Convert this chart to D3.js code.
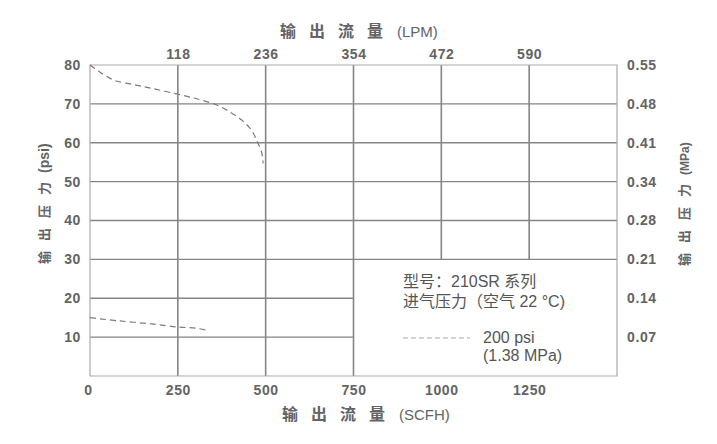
<!DOCTYPE html>
<html><head><meta charset="utf-8">
<script src="https://cdn.jsdelivr.net/npm/d3@7"></script>
<style>
body{margin:0;background:#fff;}
svg{display:block;}
text{font-family:"Liberation Sans",Arial,"Noto Sans CJK SC",sans-serif;}
</style></head>
<body><svg id="c" width="717" height="444"></svg>
<script>
// ---- data ----
const scfhTicks = [250, 500, 750, 1000, 1250];
const scfhLabels = ["0", "250", "500", "750", "1000", "1250"];
const lpmLabels = ["118", "236", "354", "472", "590"];
const psiTicks = [10, 20, 30, 40, 50, 60, 70, 80];
const mpaLabels = ["0.07", "0.14", "0.21", "0.28", "0.34", "0.41", "0.48", "0.55"];
// upper branch of the 200 psi curve (SCFH, psi)
const curveHighX = [0, 33, 71, 128, 175, 249, 308, 355, 393, 431, 459, 476, 488, 493];
const curveHighY = [80, 77.9, 76.0, 74.9, 74.0, 72.5, 71.2, 69.9, 68.2, 65.9, 63.3, 60.3, 57.7, 54.7];
// lower branch
const curveLowX = [0, 80, 175, 250, 300, 332];
const curveLowY = [15.0, 14.2, 13.4, 12.6, 12.3, 11.8];
const legendCorner = [750, 30]; // legend cell begins at x>=750, y<=30
const legendLines = ["型号：210SR 系列", "进气压力（空气 22 °C)"];
const seriesLabel = ["200 psi", "(1.38 MPa)"];

// ---- layout ----
const L = 90, R = 617, T = 65, B = 376;
const svg = d3.select("#c");
const x = d3.scaleLinear().domain([0, 1500]).range([L, R]);
const y = d3.scaleLinear().domain([0, 80]).range([B, T]);

const gridCol = "#858585", borderCol = "#aaaaaa", textCol = "#636363";

const g = svg.append("g");
// vertical grid lines
scfhTicks.forEach(v => {
  const yEnd = v > legendCorner[0] ? y(legendCorner[1]) : B;
  g.append("line").attr("x1", x(v)).attr("x2", x(v)).attr("y1", T).attr("y2", yEnd)
    .attr("stroke", gridCol).attr("stroke-width", 1.6);
});
// horizontal grid lines
psiTicks.filter(v => v < 80).forEach(v => {
  const xEnd = v < legendCorner[1] ? x(legendCorner[0]) : R;
  g.append("line").attr("x1", L).attr("x2", xEnd).attr("y1", y(v)).attr("y2", y(v))
    .attr("stroke", gridCol).attr("stroke-width", 1.4);
});
// border
g.append("path").attr("d", `M${L},${T}H${R}V${B}H${L}Z`).attr("fill", "none")
  .attr("stroke", borderCol).attr("stroke-width", 1.2);

// axes (labels only)
function styleAxis(sel) {
  sel.select(".domain").remove();
  sel.selectAll(".tick line").remove();
  sel.selectAll("text").attr("fill", textCol).attr("font-size", 14).attr("font-weight", "bold")
    .attr("letter-spacing", 0.6)
    .attr("font-family", "'Liberation Sans', Arial, sans-serif");
}
svg.append("g").attr("transform", `translate(${L},0)`)
  .call(d3.axisLeft(y).tickValues(psiTicks).tickSize(0).tickPadding(9).tickFormat(d3.format("d")))
  .call(styleAxis);
svg.append("g").attr("transform", `translate(${R},0)`)
  .call(d3.axisRight(y).tickValues(psiTicks).tickSize(0).tickPadding(10).tickFormat((d, i) => mpaLabels[i]))
  .call(styleAxis);
svg.append("g").attr("transform", `translate(0,${B})`)
  .call(d3.axisBottom(x).tickValues([0].concat(scfhTicks)).tickSize(0).tickPadding(9).tickFormat((d, i) => scfhLabels[i]))
  .call(styleAxis)
  .selectAll(".tick").filter(d => d === 0).select("text").attr("dx", -2);
svg.append("g").attr("transform", `translate(0,${T})`)
  .call(d3.axisTop(x).tickValues(scfhTicks).tickSize(0).tickPadding(6).tickFormat((d, i) => lpmLabels[i]))
  .call(styleAxis);

// axis titles
function title(sel, cn, unit, cnSize, spacing, unitSize, gap, unitWeight) {
  sel.attr("fill", textCol).attr("text-anchor", "start");
  sel.append("tspan").attr("font-family", "'Noto Sans CJK SC', sans-serif").attr("font-size", cnSize)
    .attr("font-weight", "bold").attr("letter-spacing", spacing).text(cn);
  sel.append("tspan").attr("font-family", "'Liberation Sans', Arial, sans-serif").attr("font-size", unitSize)
    .attr("font-weight", unitWeight).attr("letter-spacing", 0).attr("dx", gap).text(unit);
}
svg.append("text").attr("x", 280).attr("y", 37).call(title, "输出流量", "(LPM)", 16, 13, 15, 1, "normal");
svg.append("text").attr("x", 282).attr("y", 420).call(title, "输出流量", "(SCFH)", 16, 13, 15, 1, "normal");
svg.append("text").attr("transform", "translate(49,264) rotate(-90)").call(title, "输出压力", "(psi)", 13, 10, 14, -1, "bold");
svg.append("text").attr("transform", "translate(689,266) rotate(-90)").call(title, "输出压力", "(MPa)", 13, 10, 12, -1, "bold");

// curves
const line = d3.line().x(d => x(d[0])).y(d => y(d[1])).curve(d3.curveCatmullRom.alpha(0.5));
[[curveHighX, curveHighY], [curveLowX, curveLowY]].forEach(([xs, ys]) => {
  svg.append("path").datum(xs.map((v, i) => [v, ys[i]])).attr("d", line)
    .attr("fill", "none").attr("stroke", "#7a7a7a").attr("stroke-width", 1.2)
    .attr("stroke-dasharray", "6,4");
});

// legend
const lg = svg.append("g").attr("fill", "#555").attr("font-size", 16)
  .attr("font-family", "'Liberation Sans', Arial, 'Noto Sans CJK SC', sans-serif");
lg.append("text").attr("x", 403).attr("y", 287).text(legendLines[0]);
lg.append("text").attr("x", 403).attr("y", 307).text(legendLines[1]);
lg.append("line").attr("x1", 403).attr("x2", 470).attr("y1", 338).attr("y2", 338)
  .attr("stroke", "#aaaaaa").attr("stroke-width", 1.2).attr("stroke-dasharray", "5,3");
lg.append("text").attr("x", 483).attr("y", 343).text(seriesLabel[0]);
lg.append("text").attr("x", 483).attr("y", 361).text(seriesLabel[1]);
</script></body></html>
